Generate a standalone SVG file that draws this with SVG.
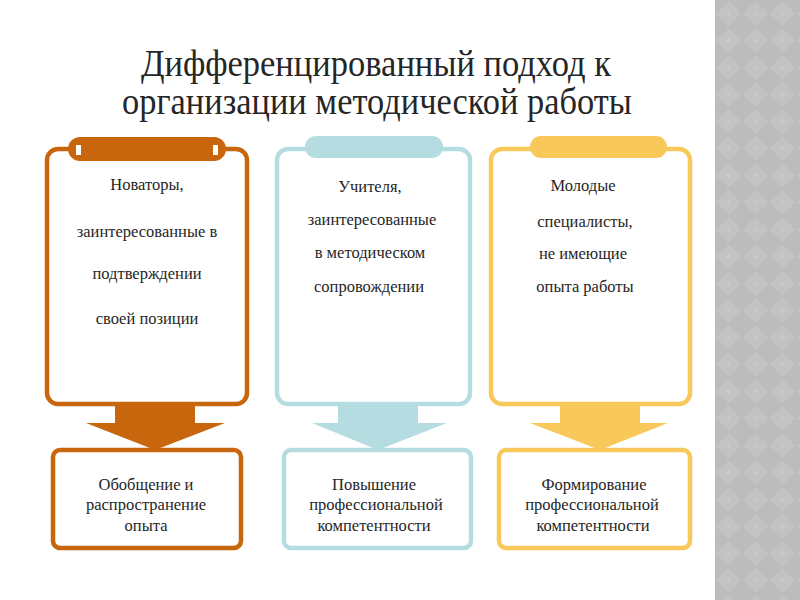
<svg xmlns="http://www.w3.org/2000/svg" width="800" height="600" viewBox="0 0 800 600">
  <defs>
    <pattern id="diam" x="715" y="0" width="27" height="27" patternUnits="userSpaceOnUse">
      <rect width="27" height="27" fill="#bcbcbc"/>
      <polygon points="13.5,1 26,13.5 13.5,26 1,13.5" fill="#c3c3c3"/>
      <path d="M13.5,11 V16 M11,13.5 H16" stroke="#cdcdcd" stroke-width="0.8"/>
    </pattern>
  </defs>
  <style>
    .title { font-family: "Liberation Serif", "DejaVu Serif", serif; font-size: 38px; fill: #262626; text-anchor: middle; }
    .t { font-family: "Liberation Serif", "DejaVu Serif", serif; font-size: 16.5px; fill: #262626; text-anchor: middle; }
    .frame { fill: #ffffff; stroke-width: 4.5; }
    .box { fill: #ffffff; stroke-width: 4.5; }
    .o { stroke: #c8660e; }
    .of { fill: #c8660e; }
    .b { stroke: #b5dde1; }
    .bf { fill: #b5dde1; }
    .y { stroke: #f8c95a; }
    .yf { fill: #f8c95a; }
  </style>

  <rect x="0" y="0" width="800" height="600" fill="#ffffff"/>
  <rect x="715" y="0" width="85" height="600" fill="url(#diam)"/>

  <g id="title">
    <text class="title" x="376" y="76" textLength="470" lengthAdjust="spacingAndGlyphs">Дифференцированный подход к</text>
    <text class="title" x="377" y="114" textLength="510" lengthAdjust="spacingAndGlyphs">организации методической работы</text>
  </g>

  <g id="connectors">
    <polygon class="of" points="115,403 195,403 195,423 225,423 155,450 86,423 115,423"/>
    <polygon class="bf" points="338,403 418,403 418,423 447,423 378,450 312,423 338,423"/>
    <polygon class="yf" points="560,403 640,403 640,423 668,423 600,450 530,423 560,423"/>
  </g>

  <g id="card-innovators">
    <rect class="frame o" x="47" y="149" width="200" height="255" rx="11"/>
    <rect class="of" x="68" y="137" width="158" height="24" rx="12"/>
    <rect x="76" y="145" width="5" height="10" fill="#ffffff"/>
    <rect x="213" y="145" width="5" height="10" fill="#ffffff"/>
    <text class="t" x="147" y="190">Новаторы,</text>
    <text class="t" x="147" y="237">заинтересованные в</text>
    <text class="t" x="147" y="279">подтверждении</text>
    <text class="t" x="147" y="324">своей позиции</text>
  </g>

  <g id="card-teachers">
    <rect class="frame b" x="277" y="149" width="193" height="255" rx="11"/>
    <rect class="bf" x="305" y="136" width="138" height="22" rx="11"/>
    <text class="t" x="370" y="192">Учителя,</text>
    <text class="t" x="372" y="225">заинтересованные</text>
    <text class="t" x="370" y="258">в методическом</text>
    <text class="t" x="369" y="292">сопровождении</text>
  </g>

  <g id="card-young">
    <rect class="frame y" x="491" y="149" width="199" height="255" rx="11"/>
    <rect class="yf" x="530" y="136" width="137" height="22" rx="11"/>
    <text class="t" x="583" y="191">Молодые</text>
    <text class="t" x="585" y="227">специалисты,</text>
    <text class="t" x="583" y="259">не имеющие</text>
    <text class="t" x="585" y="292">опыта работы</text>
  </g>

  <g id="result-1">
    <rect class="box o" x="53" y="450" width="188" height="98" rx="7"/>
    <text class="t" x="146" y="490">Обобщение и</text>
    <text class="t" x="146" y="510">распространение</text>
    <text class="t" x="146" y="531">опыта</text>
  </g>

  <g id="result-2">
    <rect class="box b" x="284" y="450" width="187" height="98" rx="7"/>
    <text class="t" x="374" y="490">Повышение</text>
    <text class="t" x="376" y="510">профессиональной</text>
    <text class="t" x="374" y="531">компетентности</text>
  </g>

  <g id="result-3">
    <rect class="box y" x="499" y="450" width="191" height="98" rx="7"/>
    <text class="t" x="594" y="490">Формирование</text>
    <text class="t" x="592" y="510">профессиональной</text>
    <text class="t" x="593" y="531">компетентности</text>
  </g>
</svg>
